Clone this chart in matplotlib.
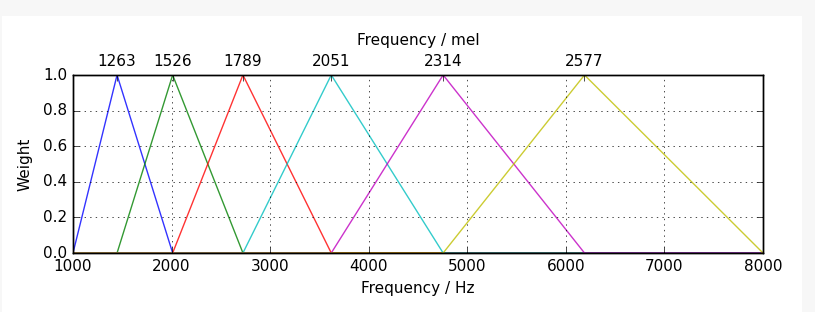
import numpy as np
import matplotlib.pyplot as plt
from matplotlib.patches import Rectangle

plt.style.use('classic')

# filter edges in Hz (mel points 1000 ... 2840, equally spaced)
edges_hz = [1000, 1447, 2011, 2724, 3620, 4755, 6189, 8000]
mel_labels = ['1263', '1526', '1789', '2051', '2314', '2577']
colors = ['b', 'g', 'r', 'c', 'm', 'y']

fig = plt.figure(figsize=(8.15, 3.12), dpi=100, facecolor='#f7f7f7')
fig.patches.append(Rectangle((2 / 815, 0), 800 / 815, 1 - 16 / 312,
                             transform=fig.transFigure, facecolor='white',
                             edgecolor='none', zorder=-1))
ax = fig.add_axes([73 / 815, 1 - 253 / 312, 690 / 815, 178 / 312])

for i in range(6):
    lo, mid, hi = edges_hz[i], edges_hz[i + 1], edges_hz[i + 2]
    xs = [edges_hz[0], lo, mid, hi, edges_hz[-1]]
    ys = [0, 0, 1, 0, 0]
    ax.plot(xs, ys, color=colors[i], lw=1.0, alpha=0.8)

ax.set_xlim(1000, 8000)
ax.set_ylim(0, 1)
ax.set_xticks(np.arange(1000, 8001, 1000))
ax.set_yticks(np.arange(0, 1.01, 0.2))
ax.grid(True)
ax.set_xlabel('Frequency / Hz', fontsize=11)
ax.set_ylabel('Weight', fontsize=11, labelpad=8)
ax.tick_params(labelsize=11)

ax2 = ax.twiny()
ax2.set_xlim(ax.get_xlim())
ax2.set_xticks(edges_hz[1:-1])
ax2.set_xticklabels(mel_labels, fontsize=11)
ax2.set_xlabel('Frequency / mel', fontsize=11, labelpad=7)

fig.savefig('out.png', dpi=100, facecolor=fig.get_facecolor())
